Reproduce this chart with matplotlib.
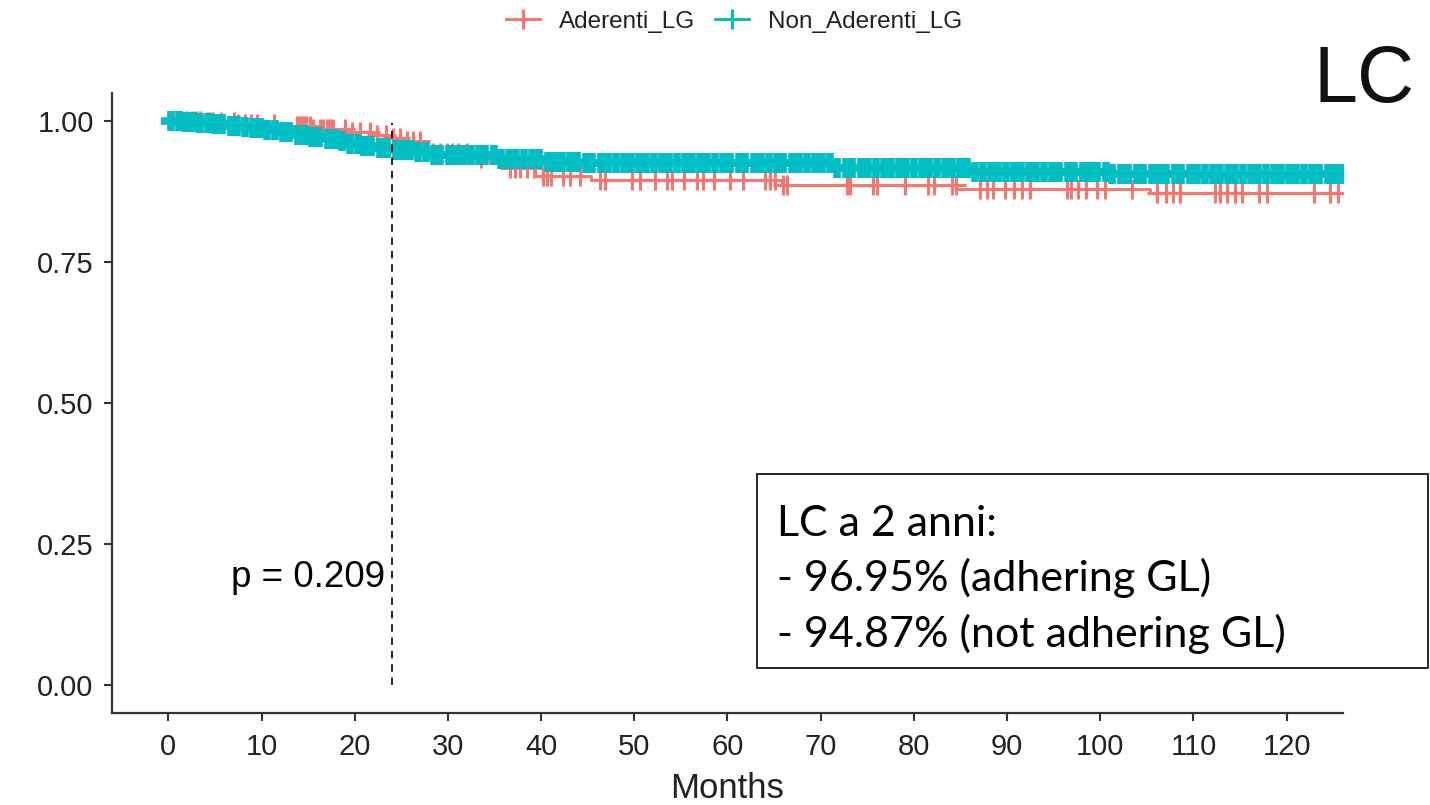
import numpy as np
import matplotlib
matplotlib.use('Agg')
import matplotlib.pyplot as plt
from matplotlib.lines import Line2D
from matplotlib.patches import Rectangle

# ---------------- data ----------------
groups = ['Aderenti_LG', 'Non_Aderenti_LG']
colors = ['#F8766D', '#00BFC4']

# Aderenti_LG : step curve (time in months, survival)
ad_time = [0, 3.5, 7.5, 11.5, 15.5, 19.5, 22.0, 23.5, 25.5, 27.6, 28.0,
           33.0, 34.5, 36.0, 39.3, 45.4, 65.8, 84.6, 105.3]
ad_surv = [1.000, 0.998, 0.995, 0.991, 0.986, 0.981, 0.976, 0.9695, 0.964,
           0.952, 0.943, 0.935, 0.926, 0.917, 0.903, 0.896, 0.886, 0.879, 0.872]
ad_cens = [0.9, 1.4, 2.0, 2.5, 3.0, 3.4, 4.1, 4.5, 4.8, 5.7, 7.0, 7.5, 8.2,
           8.9, 9.5, 11.3, 13.8, 14.1, 14.5, 14.8, 15.2, 15.5, 16.3, 16.6,
           17.0, 17.3, 17.7, 19.0, 19.7, 20.6, 21.6, 22.4, 23.4, 24.1, 24.9,
           25.6, 26.3, 27.0, 28.4, 29.2, 29.9, 30.4, 31.1, 32.0, 33.6, 36.7,
           37.2, 37.7, 38.5, 39.2, 40.2, 40.6, 41.1, 42.4, 43.1, 44.2, 46.3,
           46.9, 49.7, 50.6, 52.2, 53.5, 54.0, 55.3, 56.7, 57.4, 58.5, 60.3,
           61.7, 64.0, 64.6, 65.1, 66.0, 66.4, 72.8, 73.1, 75.6, 76.0, 79.0,
           81.5, 82.2, 84.1, 84.5, 87.1, 87.8, 88.5, 89.8, 90.7, 91.6, 92.5,
           96.4, 96.9, 97.6, 98.5, 99.6, 100.5, 103.4, 106.1, 107.0, 107.8,
           108.5, 112.3, 112.8, 113.6, 114.5, 115.2, 117.0, 117.9, 122.9,
           124.7, 125.5]

# Non_Aderenti_LG : step curve
na_time = [0, 1.5, 3, 4.5, 6, 7.5, 9, 10.5, 12, 13.5, 15, 16.5, 18, 19.5,
           21, 22.5, 23.8, 26, 28, 35.3, 40, 44, 71.3, 86.4, 101.0]
na_surv = [1.000, 0.998, 0.996, 0.994, 0.992, 0.990, 0.987, 0.984, 0.980,
           0.976, 0.972, 0.968, 0.964, 0.960, 0.956, 0.952, 0.9487, 0.945,
           0.940, 0.932, 0.928, 0.926, 0.916, 0.910, 0.906]
na_cens = [0.3, 1.1, 1.9, 2.6, 3.4, 4.3, 5.0, 5.8, 6.7, 7.4, 8.2, 9.1, 9.8,
           10.6, 11.5, 12.3, 13.0, 13.9, 14.7, 15.4, 16.2, 17.1, 17.9, 18.6,
           19.5, 20.3, 21.0, 21.8, 22.7, 23.5, 24.4, 25.2, 25.9, 26.8, 27.6,
           28.5, 29.2, 30.1, 30.9, 31.6, 32.5, 33.3, 34.0, 34.9, 35.7, 36.6,
           37.3, 38.2, 39.0, 39.8, 40.7, 41.5, 42.2, 43.1, 43.9, 44.8, 45.5,
           46.4, 47.2, 48.0, 48.9, 49.6, 50.5, 51.3, 52.1, 53.0, 53.7, 54.6,
           55.4, 56.2, 57.1, 57.8, 58.7, 59.5, 60.3, 61.2, 61.9, 62.8, 63.6,
           64.4, 65.3, 66.0, 66.9, 67.7, 68.5, 69.4, 70.1, 71.0, 71.8, 72.7,
           73.4, 74.3, 75.1, 75.9, 76.8, 77.5, 78.4, 79.2, 80.0, 80.9, 81.6,
           82.5, 83.3, 84.1, 85.0, 85.7, 86.6, 87.4, 88.3, 89.0, 89.9, 90.7,
           91.5, 92.4, 93.1, 94.0, 94.8, 95.6, 96.5, 97.2, 98.1, 98.9, 99.7,
           100.6, 101.3, 102.2, 103.0, 103.9, 104.6, 105.5, 106.3, 107.1,
           108.0, 108.7, 109.6, 110.4, 111.2, 112.1, 112.8, 113.7, 114.5,
           115.3, 116.2, 116.9, 117.8, 118.6, 119.4, 120.3, 121.0, 121.9,
           122.7, 123.5, 124.4, 125.1, 125.8]

follow_up_end = 126
x_ticks = list(range(0, 121, 10))
y_ticks = [0.0, 0.25, 0.50, 0.75, 1.00]
y_labels = ['0.00', '0.25', '0.50', '0.75', '1.00']
x_label = 'Months'
landmark_month = 24
landmark_top = 0.997
pval_text = 'p = 0.209'
pval_pos = (23.3, 0.174)
box_lines = ['LC a 2 anni:', '- 96.95% (adhering GL)',
             '- 94.87% (not adhering GL)']
panel_label = 'LC'

# ---------------- figure ----------------
W, H = 1430, 805
fig = plt.figure(figsize=(W / 100, H / 100), dpi=100)
fig.patch.set_facecolor('white')

ax_l, ax_r, ax_t, ax_b = 112.4, 1342.6, 92.8, 713.2
ax = fig.add_axes([ax_l / W, 1 - ax_b / H, (ax_r - ax_l) / W, (ax_b - ax_t) / H])

FONT = 'Liberation Sans'
axis_col = '#333333'


def draw_group(t, s, cens, col, mew, z):
    t = np.asarray(t, float)
    s = np.asarray(s, float)
    tt = np.append(t, follow_up_end)
    ss = np.append(s, s[-1])
    ax.step(tt, ss, where='post', color=col, lw=2.1, zorder=z,
            solid_capstyle='butt')
    c = np.asarray(cens, float)
    idx = np.searchsorted(t, c, side='right') - 1
    ax.plot(c, s[idx], linestyle='none', marker='+', ms=14.5, mew=mew,
            color=col, zorder=z)


draw_group(ad_time, ad_surv, ad_cens, colors[0], 2.2, 3)
draw_group(na_time, na_surv, na_cens, colors[1], 5.5, 4)

ax.plot([landmark_month, landmark_month], [0, landmark_top], color='black',
        lw=1.2, dashes=(4.5, 3.5), zorder=6)

ax.text(pval_pos[0], pval_pos[1], pval_text, ha='right', va='baseline',
        fontsize=26.5, family=FONT, color='black', zorder=7)

ax.set_xlim(-6, 126)
ax.set_ylim(-0.05, 1.05)
ax.set_xticks(x_ticks)
ax.set_xticklabels([str(v) for v in x_ticks])
ax.set_yticks(y_ticks)
ax.set_yticklabels(y_labels)

for sp in ['top', 'right']:
    ax.spines[sp].set_visible(False)
for sp in ['left', 'bottom']:
    ax.spines[sp].set_color(axis_col)
    ax.spines[sp].set_linewidth(1.6)
ax.tick_params(axis='both', length=5.5, width=1.5, color=axis_col,
               labelsize=21, labelcolor='#222222')
ax.tick_params(axis='y', pad=8)
ax.tick_params(axis='x', pad=8.5)
for lab in ax.get_xticklabels() + ax.get_yticklabels():
    lab.set_family(FONT)
ax.set_xlabel(x_label, fontsize=25, family=FONT, color='#222222', labelpad=8)

# legend
handles = [Line2D([], [], color=c, lw=2.1, marker='+', ms=14.5, mew=2.2)
           for c in colors]
leg = fig.legend(handles, groups, loc='center',
                 bbox_to_anchor=(734 / W, 1 - 21.7 / H), ncol=2,
                 frameon=False, prop={'family': FONT, 'size': 17.5},
                 handlelength=1.4, handletextpad=0.8, columnspacing=0.8,
                 borderpad=0, borderaxespad=0)
for t in leg.get_texts():
    t.set_color('#222222')

# panel label
fig.text(1314 / W, 1 - 101.7 / H, panel_label, ha='left', va='baseline',
         fontsize=57, family=FONT, color='#111111')

# text box
bx_l, bx_r, bx_t, bx_b = 757, 1428, 474, 668
fig.patches.append(Rectangle((bx_l / W, 1 - bx_b / H), (bx_r - bx_l) / W,
                             (bx_b - bx_t) / H, transform=fig.transFigure,
                             facecolor='white', edgecolor='black', lw=1.2,
                             zorder=10))
baselines = [536, 591, 647]
for line, yb in zip(box_lines, baselines):
    fig.text(777 / W, 1 - yb / H, line, ha='left', va='baseline',
             fontsize=31, family='Lato', color='black', zorder=11)

fig.savefig('out.png', dpi=100, facecolor='white')
